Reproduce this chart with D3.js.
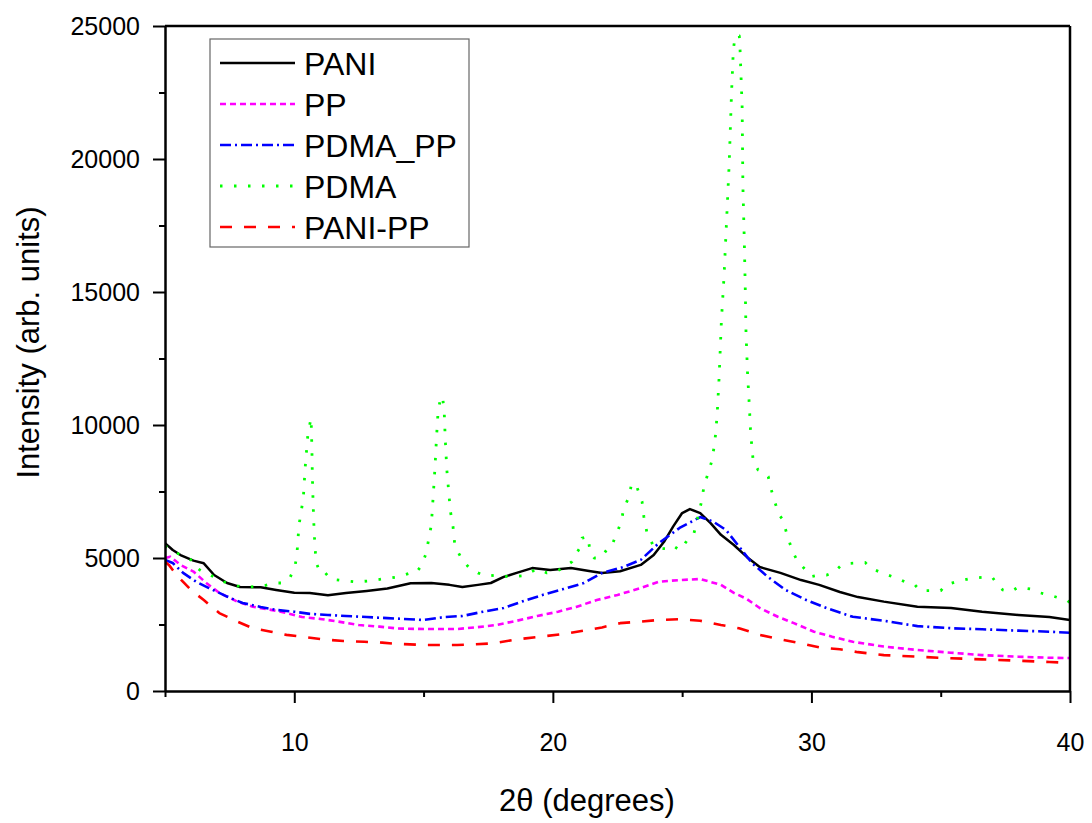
<!DOCTYPE html>
<html>
<head>
<meta charset="utf-8">
<script src="https://cdn.jsdelivr.net/npm/d3@7"></script>
<style>
  html, body { margin: 0; padding: 0; background: #fff; }
  svg { display: block; font-family: "Liberation Sans", Arial, sans-serif; }
</style>
</head>
<body>
<svg id="chart" width="1092" height="823"></svg>
<script>
// ---- data ----
const xTicksMajor = [10, 20, 30, 40];
const xTicksMinor = [5, 15, 25, 35];
const yTicksMajor = [0, 5000, 10000, 15000, 20000, 25000];
const yTicksMinor = [2500, 7500, 12500, 17500, 22500];

const seriesNames = ["PANI", "PP", "PDMA_PP", "PDMA", "PANI-PP"];

const PANI = [[5,5560],[5.3,5300],[5.6,5110],[6.1,4900],[6.5,4800],[6.9,4360],[7.4,4060],[7.9,3910],[8.7,3900],[9.3,3800],[10,3690],[10.6,3680],[11.3,3600],[12,3680],[12.8,3760],[13.6,3850],[14.5,4050],[15.3,4060],[16,3990],[16.5,3910],[17.1,3990],[17.6,4060],[18.1,4290],[18.6,4440],[19.2,4620],[19.9,4550],[20.7,4620],[21.4,4510],[21.9,4440],[22.6,4500],[23.4,4740],[23.9,5110],[24.3,5610],[24.65,6180],[25.0,6690],[25.3,6840],[25.7,6690],[26.1,6310],[26.5,5870],[27.0,5490],[27.5,5040],[28,4660],[28.8,4440],[29.6,4170],[30.3,3990],[31.1,3720],[31.8,3530],[32.8,3360],[34.1,3170],[35.4,3120],[36.6,2980],[38,2860],[39.2,2780],[40,2670]];

const PP = [[5,5000],[5.2,5050],[5.6,4740],[6.1,4490],[6.6,4060],[7.1,3690],[7.8,3360],[8.4,3170],[9.1,3050],[9.7,2930],[10.3,2780],[11,2710],[11.7,2610],[12.5,2480],[13.3,2420],[14,2350],[15,2330],[16.3,2330],[17.1,2400],[17.8,2480],[18.6,2640],[19.4,2820],[20.2,2980],[20.9,3160],[21.7,3420],[22.5,3610],[23.4,3870],[24.1,4110],[24.9,4170],[25.7,4210],[26.5,3990],[27,3690],[27.5,3460],[28,3120],[28.7,2790],[29.3,2560],[30.1,2230],[30.8,2040],[31.6,1850],[32.8,1670],[34.1,1540],[35.4,1440],[36.6,1350],[38,1290],[39.2,1250],[40,1240]];

const PDMA_PP = [[5,4930],[5.3,4810],[5.7,4440],[6.2,4110],[6.7,3870],[7.4,3550],[8,3310],[8.7,3160],[9.3,3050],[10,2980],[10.6,2900],[11.3,2860],[12,2820],[12.8,2780],[13.6,2740],[15,2670],[15.8,2780],[16.5,2820],[17.3,2980],[18.1,3120],[18.8,3360],[19.6,3610],[20.4,3830],[21.2,4060],[21.9,4440],[22.7,4650],[23.4,4930],[24.1,5560],[24.9,6130],[25.7,6540],[26.2,6370],[26.7,6050],[27.2,5430],[27.7,4810],[28.3,4300],[29,3800],[29.8,3420],[30.6,3110],[31.6,2790],[32.8,2640],[34.1,2440],[35.4,2360],[36.6,2320],[38,2270],[39.2,2230],[40,2190]];

const PDMA = [[5,5450],[5.6,5110],[6,4930],[6.1,4700],[6.4,4520],[6.75,4360],[7.25,4110],[7.8,3950],[8.3,3910],[8.8,3950],[9.25,4060],[9.5,4060],[9.83,4250],[10.03,4700],[10.1,5110],[10.18,6220],[10.35,7260],[10.42,8380],[10.53,9700],[10.65,10260],[10.68,9180],[10.7,8050],[10.73,6990],[10.77,5940],[10.84,4850],[11,4440],[11.2,4440],[11.4,4210],[12,4140],[12.4,4100],[12.9,4140],[13.4,4210],[14,4290],[14.5,4440],[14.7,4440],[14.94,4740],[15.1,5190],[15.2,5720],[15.3,6240],[15.37,7290],[15.44,8380],[15.5,9510],[15.56,10490],[15.67,11090],[15.75,10940],[15.8,10450],[15.84,9440],[15.9,8310],[16,7180],[16.05,6690],[16.14,6170],[16.2,5560],[16.33,5230],[16.5,4930],[16.8,4590],[17.1,4440],[17.45,4320],[17.84,4360],[18.34,4290],[18.84,4330],[19.4,4590],[19.77,4440],[20.16,4510],[20.47,4670],[20.74,4860],[20.86,5110],[21.05,5380],[21.13,5750],[21.36,5800],[21.43,5290],[21.6,5000],[21.8,5000],[21.94,5110],[22.13,5380],[22.28,5450],[22.44,5870],[22.52,6050],[22.67,6430],[22.72,6810],[22.94,7290],[23.05,7820],[23.25,7670],[23.45,7120],[23.52,6550],[23.64,5950],[23.87,5490],[24.06,5370],[24.45,5340],[24.65,5460],[24.9,5300],[25.07,5490],[25.23,5720],[25.45,5900],[25.65,6690],[25.77,7220],[25.84,7680],[26.0,8180],[26.14,8620],[26.23,9140],[26.3,9700],[26.36,10500],[26.43,11800],[26.52,13950],[26.62,15580],[26.72,17710],[26.82,19840],[26.91,22480],[26.98,24100],[27.05,24630],[27.21,24630],[27.24,24100],[27.32,21970],[27.35,18960],[27.4,17080],[27.44,15200],[27.47,13460],[27.53,11940],[27.6,10690],[27.65,9690],[27.75,8620],[27.94,8310],[28.13,8220],[28.33,8060],[28.43,7620],[28.6,7060],[28.75,6620],[28.9,6430],[29.04,5930],[29.27,5240],[29.48,4860],[29.75,4580],[30.0,4300],[30.3,4360],[30.6,4360],[30.9,4490],[31.17,4740],[31.5,4800],[32.08,4830],[32.3,4620],[32.6,4490],[33.3,4240],[33.6,4110],[34,3990],[34.2,3770],[35,3770],[35.2,3990],[35.6,4110],[36.2,4240],[36.6,4270],[37,4270],[37.2,3990],[37.4,3800],[37.7,3730],[38,3900],[38.5,3830],[38.8,3700],[39.2,3610],[39.6,3490],[39.9,3400],[40,3320]];

const PANI_PP = [[5,4860],[5.15,4740],[5.45,4360],[6,3800],[6.5,3420],[7.1,2930],[7.8,2610],[8.4,2360],[9.1,2230],[9.7,2110],[10.3,2040],[11.1,1940],[11.9,1880],[12.7,1850],[13.4,1820],[14,1770],[15,1730],[16.3,1730],[16.9,1750],[17.7,1790],[18.6,1940],[19.5,2040],[20.4,2140],[21.2,2270],[21.9,2390],[22.6,2550],[23.4,2610],[24.1,2670],[24.9,2700],[25.7,2640],[26.5,2480],[27.2,2360],[28,2110],[28.8,1940],[29.6,1790],[30.3,1640],[31.1,1570],[31.8,1460],[32.8,1350],[34.1,1290],[35.4,1230],[36.6,1190],[38,1140],[39.2,1090],[40,1060]];

const seriesData = [PANI, PP, PDMA_PP, PDMA, PANI_PP];
const seriesColors = ["#000000", "#FF00FF", "#0000FF", "#00FF00", "#FF0000"];
const seriesDash = [null, "6,4", "11,4,2,4", "2.5,11.5", "12,12"];
const seriesWidth = [2.5, 2.6, 2.6, 2.8, 2.6];

// ---- layout ----
const L = 165, R = 1070, T = 26, B = 691;
const svg = d3.select("#chart");
const x = d3.scaleLinear().domain([5, 40]).range([L, R]);
const y = d3.scaleLinear().domain([0, 25000]).range([B, T]);

svg.append("defs").append("clipPath").attr("id", "clip")
  .append("rect").attr("x", L).attr("y", T).attr("width", R - L).attr("height", B - T);

// lines
const line = d3.line().x(d => x(d[0])).y(d => y(d[1]));
const g = svg.append("g").attr("clip-path", "url(#clip)");
seriesData.forEach((data, i) => {
  g.append("path").datum(data)
    .attr("d", line)
    .attr("fill", "none")
    .attr("stroke", seriesColors[i])
    .attr("stroke-width", seriesWidth[i])
    .attr("stroke-dasharray", seriesDash[i])
    .attr("stroke-linejoin", "round");
});

// frame (top and right)
svg.append("line").attr("x1", L).attr("x2", R).attr("y1", T).attr("y2", T)
  .attr("stroke", "#000").attr("stroke-width", 2.5);
svg.append("line").attr("x1", R).attr("x2", R).attr("y1", T).attr("y2", B)
  .attr("stroke", "#000").attr("stroke-width", 2.5);

// y axis
const yAxis = svg.append("g").attr("transform", `translate(${L},0)`)
  .call(d3.axisLeft(y).tickValues(yTicksMajor).tickFormat(d3.format("d"))
    .tickSize(12).tickSizeOuter(0).tickPadding(13));
yAxis.select(".domain").attr("stroke-width", 2.5);
yAxis.selectAll(".tick line").attr("stroke-width", 2);
yAxis.selectAll(".tick text").attr("font-size", 25).attr("fill", "#000")
  .attr("font-family", "'Liberation Sans', Arial, sans-serif");
svg.append("g").attr("transform", `translate(${L},0)`)
  .call(d3.axisLeft(y).tickValues(yTicksMinor).tickSize(6).tickFormat(""))
  .call(s => s.select(".domain").remove())
  .selectAll(".tick line").attr("stroke-width", 2);

// x axis
const xAxis = svg.append("g").attr("transform", `translate(0,${B})`)
  .call(d3.axisBottom(x).tickValues(xTicksMajor).tickFormat(d3.format("d"))
    .tickSize(12).tickSizeOuter(0).tickPadding(30));
xAxis.select(".domain").attr("stroke-width", 2.5);
xAxis.selectAll(".tick line").attr("stroke-width", 2);
xAxis.selectAll(".tick text").attr("font-size", 25).attr("fill", "#000")
  .attr("font-family", "'Liberation Sans', Arial, sans-serif");
svg.append("g").attr("transform", `translate(0,${B})`)
  .call(d3.axisBottom(x).tickValues(xTicksMinor).tickSize(6).tickFormat(""))
  .call(s => s.select(".domain").remove())
  .selectAll(".tick line").attr("stroke-width", 2);

// axis titles
svg.append("text")
  .attr("transform", `translate(39,${(T + B) / 2 - 16}) rotate(-90)`)
  .attr("text-anchor", "middle")
  .attr("font-size", 31).attr("fill", "#000")
  .text("Intensity (arb. units)");
svg.append("text")
  .attr("x", 587).attr("y", 811)
  .attr("text-anchor", "middle")
  .attr("font-size", 31).attr("fill", "#000")
  .text("2θ (degrees)");

// legend
const lg = svg.append("g");
lg.append("rect").attr("x", 210).attr("y", 39).attr("width", 259).attr("height", 208)
  .attr("fill", "#fff").attr("stroke", "#666").attr("stroke-width", 1.2);
const rowY = d3.scalePoint().domain(seriesNames).range([63, 227]);
seriesNames.forEach((name, i) => {
  const yy = rowY(name);
  lg.append("line").attr("x1", 220).attr("x2", 295).attr("y1", yy).attr("y2", yy)
    .attr("stroke", seriesColors[i]).attr("stroke-width", seriesWidth[i])
    .attr("stroke-dasharray", seriesDash[i]);
  lg.append("text").attr("x", 304).attr("y", yy).attr("dy", "0.36em")
    .attr("font-size", 32).attr("fill", "#000").text(name);
});
</script>
</body>
</html>
